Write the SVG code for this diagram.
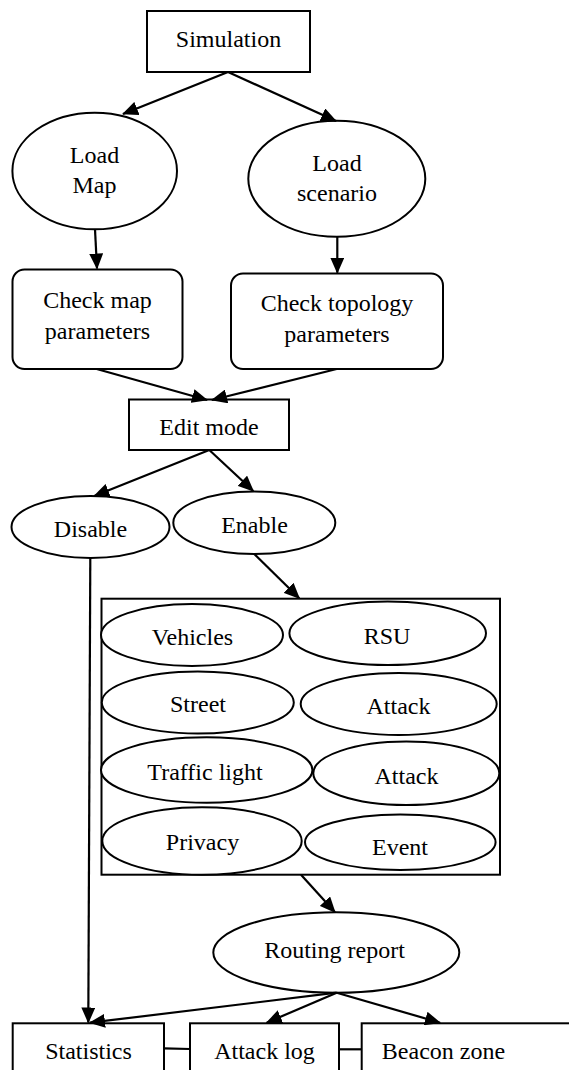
<svg xmlns="http://www.w3.org/2000/svg" width="569" height="1070" viewBox="0 0 569 1070">
<style>
.n{fill:#fff;stroke:#000;stroke-width:2}
.t{font-family:"Liberation Serif","Times New Roman",serif;font-size:24px;fill:#000;text-anchor:middle}
.c{stroke:#000;stroke-width:2.2;fill:none}
</style>
<defs>
<marker id="ah" viewBox="0 0 16 14" refX="15" refY="7" markerWidth="16" markerHeight="14" markerUnits="userSpaceOnUse" orient="auto">
<path d="M0,0 L16,7 L0,14 z" fill="#000"/>
</marker>
</defs>
<rect width="569" height="1070" fill="#fff"/>

<g id="simulation"><rect class="n" x="147" y="11" width="163" height="61"/><text class="t" x="228.5" y="47">Simulation</text></g>
<g id="load-map"><ellipse class="n" cx="94.7" cy="171" rx="82.3" ry="58.3"/><text class="t" x="94.5" y="163">Load</text><text class="t" x="94.5" y="193">Map</text></g>
<g id="load-scenario"><ellipse class="n" cx="336.8" cy="178.7" rx="88.5" ry="58"/><text class="t" x="337" y="171">Load</text><text class="t" x="337" y="201">scenario</text></g>
<g id="check-map"><rect class="n" x="12.5" y="269.5" width="170" height="99.5" rx="12" ry="12"/><text class="t" x="97.5" y="308">Check map</text><text class="t" x="97.5" y="339">parameters</text></g>
<g id="check-topology"><rect class="n" x="231" y="273.5" width="212" height="95.5" rx="12" ry="12"/><text class="t" x="337" y="311">Check topology</text><text class="t" x="337" y="342">parameters</text></g>
<g id="edit-mode"><rect class="n" x="129" y="399.5" width="160" height="50.5"/><text class="t" x="209" y="435">Edit mode</text></g>
<g id="disable"><ellipse class="n" cx="90.5" cy="527" rx="79" ry="31"/><text class="t" x="90.5" y="537">Disable</text></g>
<g id="enable"><ellipse class="n" cx="254.3" cy="522.7" rx="81" ry="31.3"/><text class="t" x="254.5" y="533">Enable</text></g>
<g id="features">
<rect class="n" x="101.5" y="598.7" width="398.5" height="276"/>
<g id="vehicles"><ellipse class="n" cx="192" cy="635" rx="91" ry="31"/><text class="t" x="192.5" y="645">Vehicles</text></g>
<g id="rsu"><ellipse class="n" cx="387.7" cy="633.3" rx="98.3" ry="31.7"/><text class="t" x="387" y="643.5">RSU</text></g>
<g id="street"><ellipse class="n" cx="197.8" cy="702.5" rx="96" ry="31"/><text class="t" x="198" y="712">Street</text></g>
<g id="attack1"><ellipse class="n" cx="398.7" cy="704" rx="98" ry="31"/><text class="t" x="398.5" y="714">Attack</text></g>
<g id="traffic-light"><ellipse class="n" cx="206.7" cy="770" rx="105.7" ry="32.7"/><text class="t" x="205" y="779.5">Traffic light</text></g>
<g id="attack2"><ellipse class="n" cx="406.3" cy="773.3" rx="93" ry="31.7"/><text class="t" x="406.5" y="783.5">Attack</text></g>
<g id="privacy"><ellipse class="n" cx="202" cy="841" rx="99.7" ry="33.7"/><text class="t" x="202.5" y="849.5">Privacy</text></g>
<g id="event"><ellipse class="n" cx="400.3" cy="842.2" rx="95.3" ry="27.8"/><text class="t" x="400" y="854.5">Event</text></g>
</g>
<g id="routing-report"><ellipse class="n" cx="336.3" cy="952.5" rx="123" ry="40.2"/><text class="t" x="334.5" y="958">Routing report</text></g>
<g id="statistics"><rect class="n" x="12.7" y="1023.3" width="151.3" height="60"/><text class="t" x="88.5" y="1058.5">Statistics</text></g>
<g id="attack-log"><rect class="n" x="190" y="1023.3" width="149" height="60"/><text class="t" x="264.5" y="1058.5">Attack log</text></g>
<g id="beacon-zone"><rect class="n" x="361.7" y="1023.3" width="220" height="60"/><text class="t" x="443.5" y="1058.5">Beacon zone</text></g>

<g id="connectors">
<line class="c" x1="228" y1="72" x2="123" y2="114" marker-end="url(#ah)"/>
<line class="c" x1="228" y1="72" x2="336" y2="121" marker-end="url(#ah)"/>
<line class="c" x1="95" y1="229.3" x2="97" y2="268.5" marker-end="url(#ah)"/>
<line class="c" x1="337.3" y1="236.7" x2="337.3" y2="272.7" marker-end="url(#ah)"/>
<line class="c" x1="96.7" y1="369" x2="207" y2="400" marker-end="url(#ah)"/>
<line class="c" x1="336.7" y1="369" x2="212" y2="400" marker-end="url(#ah)"/>
<line class="c" x1="209.3" y1="450" x2="94.3" y2="496" marker-end="url(#ah)"/>
<line class="c" x1="209.3" y1="450" x2="253.3" y2="491" marker-end="url(#ah)"/>
<line class="c" x1="254.3" y1="554" x2="299.3" y2="598.3" marker-end="url(#ah)"/>
<line class="c" x1="90.3" y1="558" x2="88.3" y2="1022.5" marker-end="url(#ah)"/>
<line class="c" x1="301" y1="874.7" x2="335" y2="912.3" marker-end="url(#ah)"/>
<line class="c" x1="336.7" y1="992.7" x2="90" y2="1022.7" marker-end="url(#ah)"/>
<line class="c" x1="336.7" y1="992.7" x2="266.7" y2="1022.7" marker-end="url(#ah)"/>
<line class="c" x1="336.7" y1="992.7" x2="440" y2="1022.7" marker-end="url(#ah)"/>
<line class="c" x1="164" y1="1048.3" x2="190" y2="1049"/>
<line class="c" x1="339" y1="1049.3" x2="361.7" y2="1049.3"/>
</g>
</svg>
